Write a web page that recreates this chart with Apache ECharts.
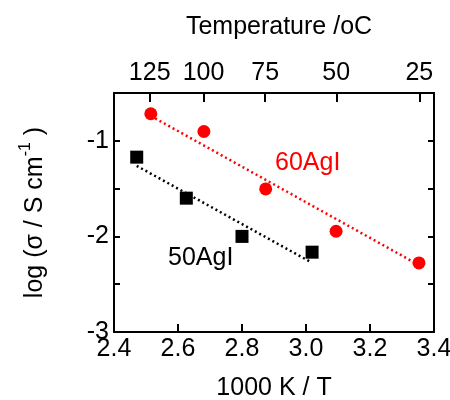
<!DOCTYPE html>
<html>
<head>
<meta charset="utf-8">
<script src="https://cdn.jsdelivr.net/npm/echarts@6/dist/echarts.min.js"></script>
<style>
  html, body { margin: 0; padding: 0; background: #fff; }
  #chart { width: 450px; height: 400px; }
</style>
</head>
<body>
<div id="chart"></div>
<script>
// data
const tempTicks = [125, 100, 75, 50, 25];           // top axis, degrees C
const agi60X = [2.515, 2.681, 2.874, 3.094, 3.353];
const agi60Y = [-0.717, -0.903, -1.503, -1.946, -2.277];
const agi50X = [2.471, 2.626, 2.800, 3.019];
const agi50Y = [-1.171, -1.600, -2.000, -2.165];
// dotted fit lines (end points)
const fit60X = [2.515, 3.353];
const fit60Y = [-0.74, -2.30];
const fit50X = [2.471, 3.0125];
const fit50Y = [-1.262, -2.264];

const font = 'Liberation Sans, Arial, sans-serif';
const fs = 25;

const pairs = (xs, ys) => xs.map((x, i) => [x, ys[i]]);
const tempPos = tempTicks.map(t => 1000 / (t + 273.15));

const myChart = echarts.init(document.getElementById('chart'));

const axisLine = { show: true, lineStyle: { color: '#000', width: 2 } };

const option = {
  animation: false,
  grid: { left: 114, right: 16, top: 93, bottom: 68, outerBoundsMode: 'none' },
  title: {
    text: 'Temperature /oC',
    left: 274,
    top: 10,
    textAlign: 'center',
    textStyle: { fontFamily: font, fontSize: fs, fontWeight: 'normal', color: '#000' }
  },
  xAxis: [
    {
      type: 'value', min: 2.4, max: 3.4, interval: 0.2, position: 'bottom',
      name: '1000 K / T', nameLocation: 'middle', nameGap: 44,
      nameTextStyle: { fontFamily: font, fontSize: fs, color: '#000' },
      axisLine: axisLine,
      axisTick: { show: true, inside: true, length: 8, lineStyle: { color: '#000', width: 2 } },
      axisLabel: { fontFamily: font, fontSize: fs, color: '#000', margin: 5,
        formatter: v => v.toFixed(1) },
      splitLine: { show: false }
    },
    {
      type: 'value', min: 2.4, max: 3.4, position: 'top',
      axisLine: axisLine,
      axisTick: { show: true, inside: true, length: 9, customValues: tempPos,
        lineStyle: { color: '#000', width: 2 } },
      axisLabel: { fontFamily: font, fontSize: fs, color: '#000', margin: 7,
        customValues: tempPos,
        formatter: v => String(Math.round(1000 / v - 273.15)) },
      splitLine: { show: false }
    }
  ],
  yAxis: [
    {
      type: 'value', min: -3, max: -0.5, interval: 0.5, position: 'left',
      name: '{a|log (σ / S cm}{s|-1}{a| )}',
      nameLocation: 'middle', nameRotate: 90, nameGap: 66,
      nameTextStyle: {
        rich: {
          a: { fontFamily: font, fontSize: fs, color: '#000', lineHeight: 30, verticalAlign: 'bottom' },
          s: { fontFamily: font, fontSize: 16, color: '#000', lineHeight: 30, verticalAlign: 'top' }
        }
      },
      axisLine: axisLine,
      axisTick: { show: true, inside: true, length: 6, lineStyle: { color: '#000', width: 2 } },
      axisLabel: { fontFamily: font, fontSize: fs, color: '#000', margin: 5,
        formatter: v => (Number.isInteger(v) ? String(v) : '') },
      splitLine: { show: false }
    },
    {
      type: 'value', min: -3, max: -0.5, interval: 0.5, position: 'right',
      axisLine: axisLine,
      axisTick: { show: true, inside: true, length: 6, lineStyle: { color: '#000', width: 2 } },
      axisLabel: { show: false },
      splitLine: { show: false }
    }
  ],
  series: [
    {
      type: 'line', data: pairs(fit60X, fit60Y), symbol: 'none',
      lineStyle: { color: '#ff0000', width: 2.5, type: [2, 3] }, z: 2
    },
    {
      type: 'line', data: pairs(fit50X, fit50Y), symbol: 'none',
      lineStyle: { color: '#000', width: 2.5, type: [2, 3] }, z: 2
    },
    {
      type: 'scatter', data: pairs(agi60X, agi60Y), symbol: 'circle', symbolSize: 13,
      itemStyle: { color: '#ff0000', opacity: 1 }, z: 3
    },
    {
      type: 'scatter', data: pairs(agi50X, agi50Y), symbol: 'rect', symbolSize: 13,
      itemStyle: { color: '#000', opacity: 1 }, z: 3
    }
  ],
  graphic: [
    { type: 'text', left: 275, top: 151,
      style: { text: '60AgI', fill: '#ff0000', font: fs + 'px ' + font } },
    { type: 'text', left: 168, top: 246,
      style: { text: '50AgI', fill: '#000', font: fs + 'px ' + font } }
  ]
};

option && myChart.setOption(option);
</script>
</body>
</html>
